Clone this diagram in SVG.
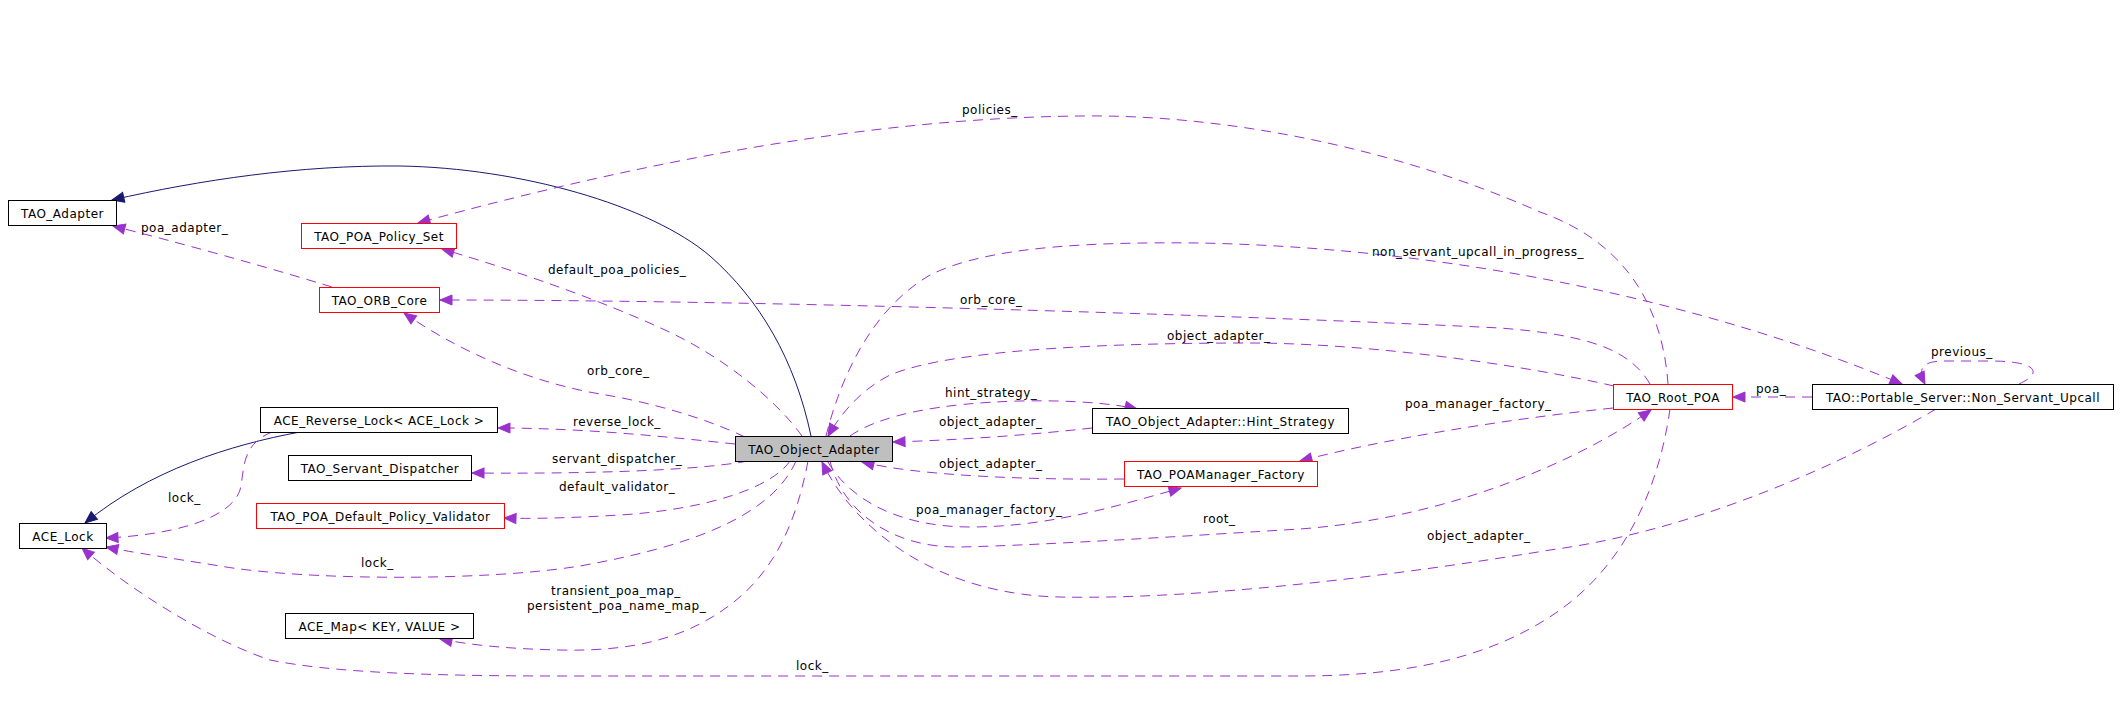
<svg xmlns="http://www.w3.org/2000/svg" width="2120" height="705" viewBox="0 0 2120 705">
<style>
text{font-family:"DejaVu Sans","Liberation Sans",sans-serif;font-size:12px;letter-spacing:0.5px;fill:#000}
.n rect{fill:#fff;stroke:#000;stroke-width:1}
.n.red rect{stroke:#ff0000}
.n.cur rect{fill:#bfbfbf}
.n text{text-anchor:middle}
.u{fill:none;stroke:#9a32cd;stroke-width:1;stroke-dasharray:10,7;marker-end:url(#ap)}
.i{fill:none;stroke:#191970;stroke-width:1;marker-end:url(#ab)}
</style>
<defs>
<marker id="ap" markerUnits="userSpaceOnUse" markerWidth="14" markerHeight="12" refX="12" refY="5" orient="auto" overflow="visible"><path d="M0,0 L12,5 L0,10 z" fill="#9a32cd" stroke="#9a32cd" stroke-width="1"/></marker>
<marker id="ab" markerUnits="userSpaceOnUse" markerWidth="14" markerHeight="12" refX="12" refY="5" orient="auto" overflow="visible"><path d="M0,0 L12,5 L0,10 z" fill="#191970" stroke="#191970" stroke-width="1"/></marker>
</defs>
<rect x="0" y="0" width="2120" height="705" fill="#fff"/>
<g id="connectors">
<path class="i" d="M811,436 C795,360 760,300 710,256 C650,205 520,168 400,166 C300,165 200,180 112,200"/>
<path class="u" d="M1668,384 C1662,300 1620,240 1540,212 C1400,150 1230,114 1080,116 C870,118 640,162 418,223"/>
<path class="u" d="M802,436 C780,405 730,360 665,330 C600,300 520,272 442,249"/>
<path class="u" d="M745,437 C705,418 650,402 600,394 C530,382 460,352 404,313"/>
<path class="u" d="M1650,384 C1630,350 1590,335 1500,328 C1300,318 800,300 440,300"/>
<path class="u" d="M1614,386 C1500,360 1350,343 1250,343 C1100,343 950,350 890,375 C860,390 840,415 828,436"/>
<path class="u" d="M826,436 C840,380 870,310 930,275 C990,245 1100,242 1200,243 C1450,248 1700,300 1902,384"/>
<path class="u" d="M850,436 C880,415 940,403 1020,401 C1070,400 1110,403 1137,409"/>
<path class="u" d="M1092,428 C1030,435 960,440 893,442"/>
<path class="u" d="M1124,479 C1030,480 920,476 862,462"/>
<path class="u" d="M828,462 C850,500 900,527 970,527 C1050,527 1120,505 1181,488"/>
<path class="u" d="M1613,408 C1500,420 1380,440 1300,461"/>
<path class="u" d="M830,461 C842,510 890,548 960,547 C1050,545 1200,535 1300,529 C1450,518 1580,460 1651,410"/>
<path class="u" d="M1936,409 C1850,460 1700,530 1550,550 C1400,575 1200,600 1060,597 C950,595 860,540 822,462"/>
<path class="u" d="M735,444 C660,436 580,428 498,428"/>
<path class="u" d="M748,461 C700,470 600,474 472,473"/>
<path class="u" d="M790,461 C770,490 700,510 620,515 C570,518 530,519 504,518"/>
<path class="u" d="M796,461 C770,520 680,548 580,566 C480,582 300,580 220,566 C170,558 130,552 106,547"/>
<path class="i" d="M300,432 C230,445 150,470 85,523"/>
<path class="u" d="M272,432 C240,445 245,470 240,490 C230,520 170,535 106,538"/>
<path class="u" d="M1670,409 C1660,480 1630,560 1560,610 C1490,660 1400,676 1300,676 L560,676 C420,676 330,672 270,660 C210,640 130,590 82,548"/>
<path class="u" d="M808,461 C795,530 770,575 730,605 C690,635 640,652 560,650 C510,649 470,645 440,639"/>
<path class="u" d="M1812,397 L1733,397"/>
<path class="u" d="M2019,384 C2045,372 2035,361 1990,361 L1945,361 C1920,361 1918,370 1925,384"/>
<path class="u" d="M332,287 C260,265 180,243 113,226"/>
<text x="962" y="114">policies_</text>
<text x="548" y="274">default_poa_policies_</text>
<text x="960" y="304">orb_core_</text>
<text x="1372" y="256">non_servant_upcall_in_progress_</text>
<text x="1167" y="340">object_adapter_</text>
<text x="587" y="375">orb_core_</text>
<text x="945" y="397">hint_strategy_</text>
<text x="573" y="426">reverse_lock_</text>
<text x="939" y="426">object_adapter_</text>
<text x="552" y="463">servant_dispatcher_</text>
<text x="939" y="468">object_adapter_</text>
<text x="559" y="491">default_validator_</text>
<text x="916" y="514">poa_manager_factory_</text>
<text x="1405" y="408">poa_manager_factory_</text>
<text x="1203" y="523">root_</text>
<text x="1427" y="540">object_adapter_</text>
<text x="361" y="567">lock_</text>
<text x="168" y="502">lock_</text>
<text x="796" y="670">lock_</text>
<text x="551" y="595">transient_poa_map_</text>
<text x="527" y="610">persistent_poa_name_map_</text>
<text x="1756" y="393">poa_</text>
<text x="1931" y="356">previous_</text>
<text x="141" y="232">poa_adapter_</text>
</g>
<g id="TAO_Adapter" class="n"><rect x="8.5" y="200.5" width="108" height="25"/><text x="62.5" y="217.5">TAO_Adapter</text></g>
<g id="TAO_POA_Policy_Set" class="n red"><rect x="301.5" y="223.5" width="155" height="25"/><text x="379" y="240.5">TAO_POA_Policy_Set</text></g>
<g id="TAO_ORB_Core" class="n red"><rect x="319.5" y="287.5" width="120" height="25"/><text x="379.5" y="304.5">TAO_ORB_Core</text></g>
<g id="ACE_Reverse_Lock" class="n"><rect x="260.5" y="407.5" width="237" height="25"/><text x="379" y="424.5">ACE_Reverse_Lock&lt; ACE_Lock &gt;</text></g>
<g id="TAO_Servant_Dispatcher" class="n"><rect x="288.5" y="455.5" width="183" height="25"/><text x="380" y="472.5">TAO_Servant_Dispatcher</text></g>
<g id="TAO_POA_Default_Policy_Validator" class="n red"><rect x="256.5" y="503.5" width="248" height="25"/><text x="380.5" y="520.5">TAO_POA_Default_Policy_Validator</text></g>
<g id="ACE_Lock" class="n"><rect x="19.5" y="523.5" width="87" height="25"/><text x="63" y="540.5">ACE_Lock</text></g>
<g id="ACE_Map" class="n"><rect x="285.5" y="613.5" width="188" height="25"/><text x="379.5" y="630.5">ACE_Map&lt; KEY, VALUE &gt;</text></g>
<g id="TAO_Object_Adapter" class="n cur"><rect x="735.5" y="436.5" width="157" height="25"/><text x="814" y="453.5">TAO_Object_Adapter</text></g>
<g id="Hint_Strategy" class="n"><rect x="1092.5" y="408.5" width="256" height="25"/><text x="1220.5" y="425.5">TAO_Object_Adapter::Hint_Strategy</text></g>
<g id="TAO_POAManager_Factory" class="n red"><rect x="1124.5" y="461.5" width="193" height="25"/><text x="1221" y="478.5">TAO_POAManager_Factory</text></g>
<g id="TAO_Root_POA" class="n red"><rect x="1613.5" y="384.5" width="119" height="25"/><text x="1673" y="401.5">TAO_Root_POA</text></g>
<g id="Non_Servant_Upcall" class="n"><rect x="1812.5" y="384.5" width="301" height="25"/><text x="1963" y="401.5">TAO::Portable_Server::Non_Servant_Upcall</text></g>
</svg>
